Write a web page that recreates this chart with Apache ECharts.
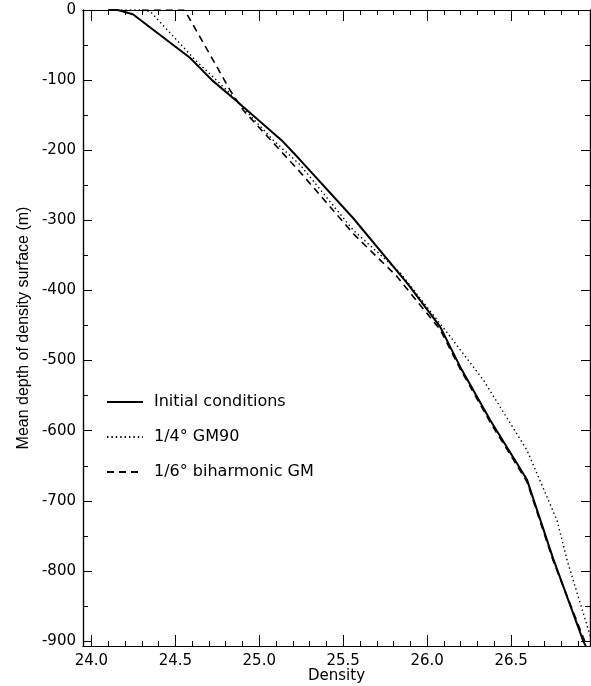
<!DOCTYPE html>
<html>
<head>
<meta charset="utf-8">
<script src="https://cdn.jsdelivr.net/npm/echarts@6/dist/echarts.min.js"></script>
<style>
  html, body { margin: 0; padding: 0; background: #fff; }
  #chart { width: 591px; height: 686px; }
</style>
</head>
<body>
<div id="chart"></div>
<script>
// density / depth pairs
var initialConditions = [
  [24.10, 0], [24.157, 0], [24.247, -6], [24.587, -68], [24.718, -100],
  [24.856, -128], [25.134, -186], [25.244, -214], [25.56, -297],
  [25.889, -392], [26.078, -452], [26.197, -509], [26.376, -585],
  [26.595, -670], [26.75, -782], [26.93, -900], [26.945, -907]
];
var gm90 = [
  [24.15, 0], [24.288, 0], [24.35, -2], [24.617, -71], [24.805, -114],
  [25.08, -185], [25.244, -221], [25.56, -314], [25.84, -375],
  [26.138, -466], [26.336, -528], [26.595, -628], [26.774, -728],
  [26.834, -785], [26.973, -894]
];
var biharmonic = [
  [24.30, 0], [24.55, 0], [24.567, -5], [24.724, -71], [24.825, -114],
  [24.905, -143], [25.243, -231], [25.56, -319], [25.82, -380],
  [26.078, -456], [26.197, -512], [26.376, -588], [26.595, -673],
  [26.75, -785], [26.95, -907]
];
var seriesNames = ['Initial conditions', '1/4° GM90', '1/6° biharmonic GM'];

var xMajor = [24.0, 24.5, 25.0, 25.5, 26.0, 26.5];
var xTickLabels = ['24.0', '24.5', '25.0', '25.5', '26.0', '26.5'];
var yMajor = [0, -100, -200, -300, -400, -500, -600, -700, -800, -900];
var yTickLabels = ['0', '-100', '-200', '-300', '-400', '-500', '-600', '-700', '-800', '-900'];

var xMinor = [];
for (var i = 0; i <= 29; i++) xMinor.push(Math.round((24 + i * 0.1) * 10) / 10);
var yMinor = [];
for (var j = 0; j <= 18; j++) yMinor.push(-j * 50);

var tickFont = { fontFamily: 'DejaVu Sans', fontSize: 15, color: '#000' };

function xAx(pos, ticks, len, withLabels) {
  return {
    type: 'value', position: pos, min: 23.95, max: 26.97,
    axisLine: { show: true, onZero: false, lineStyle: { color: '#000', width: 1.2 } },
    axisTick: { show: true, inside: true, length: len, customValues: ticks, lineStyle: { color: '#000', width: 1 } },
    axisLabel: withLabels ? Object.assign({
      show: true, margin: 8, customValues: xMajor,
      formatter: function (v) { return xTickLabels[xMajor.indexOf(+v.toFixed(1))]; }
    }, tickFont) : { show: false },
    splitLine: { show: false },
    name: withLabels ? 'Density' : '',
    nameLocation: 'middle', nameGap: 23, nameMoveOverlap: false,
    nameTextStyle: { fontFamily: 'DejaVu Sans', fontSize: 15, color: '#000' }
  };
}
function yAx(pos, ticks, len, withLabels) {
  return {
    type: 'value', position: pos, min: -907, max: 0,
    axisLine: { show: true, onZero: false, lineStyle: { color: '#000', width: 1.2 } },
    axisTick: { show: true, inside: true, length: len, customValues: ticks, lineStyle: { color: '#000', width: 1 } },
    axisLabel: withLabels ? Object.assign({
      show: true, margin: 7, customValues: yMajor,
      formatter: function (v) { return yTickLabels[yMajor.indexOf(Math.round(v))]; }
    }, tickFont) : { show: false },
    splitLine: { show: false },
    name: withLabels ? 'Mean depth of density surface (m)' : '',
    nameLocation: 'middle', nameRotate: 90, nameGap: 51, nameMoveOverlap: false,
    nameTextStyle: { fontFamily: 'Liberation Sans', fontSize: 16, color: '#000' }
  };
}

var chart = echarts.init(document.getElementById('chart'));
chart.setOption({
  animation: false,
  backgroundColor: '#fff',
  grid: { left: 83, right: 1, top: 10, bottom: 40, containLabel: false, outerBoundsMode: 'none' },
  legend: {
    orient: 'vertical', left: 101, top: 389,
    itemWidth: 36, itemHeight: 14, itemGap: 19,
    data: seriesNames,
    itemStyle: { opacity: 0, borderWidth: 0 },
    textStyle: { fontFamily: 'DejaVu Sans', fontSize: 16, color: '#000', padding: [0, 0, 0, 6] }
  },
  xAxis: [
    xAx('bottom', xMajor, 11, true),
    xAx('bottom', xMinor, 5, false),
    xAx('top', xMajor, 11, false),
    xAx('top', xMinor, 5, false)
  ],
  yAxis: [
    yAx('left', yMajor, 9, true),
    yAx('left', yMinor, 5, false),
    yAx('right', yMajor, 9, false),
    yAx('right', yMinor, 5, false)
  ],
  series: [
    {
      name: seriesNames[0], type: 'line', data: initialConditions, symbol: 'none',
      lineStyle: { color: '#000', width: 2, type: 'solid' }, itemStyle: { color: '#000' }
    },
    {
      name: seriesNames[1], type: 'line', data: gm90, symbol: 'none',
      lineStyle: { color: '#000', width: 1.4, type: [1.4, 3] }, itemStyle: { color: '#000' }
    },
    {
      name: seriesNames[2], type: 'line', data: biharmonic, symbol: 'none',
      lineStyle: { color: '#000', width: 1.6, type: [7, 5] }, itemStyle: { color: '#000' }
    }
  ]
});
</script>
</body>
</html>
